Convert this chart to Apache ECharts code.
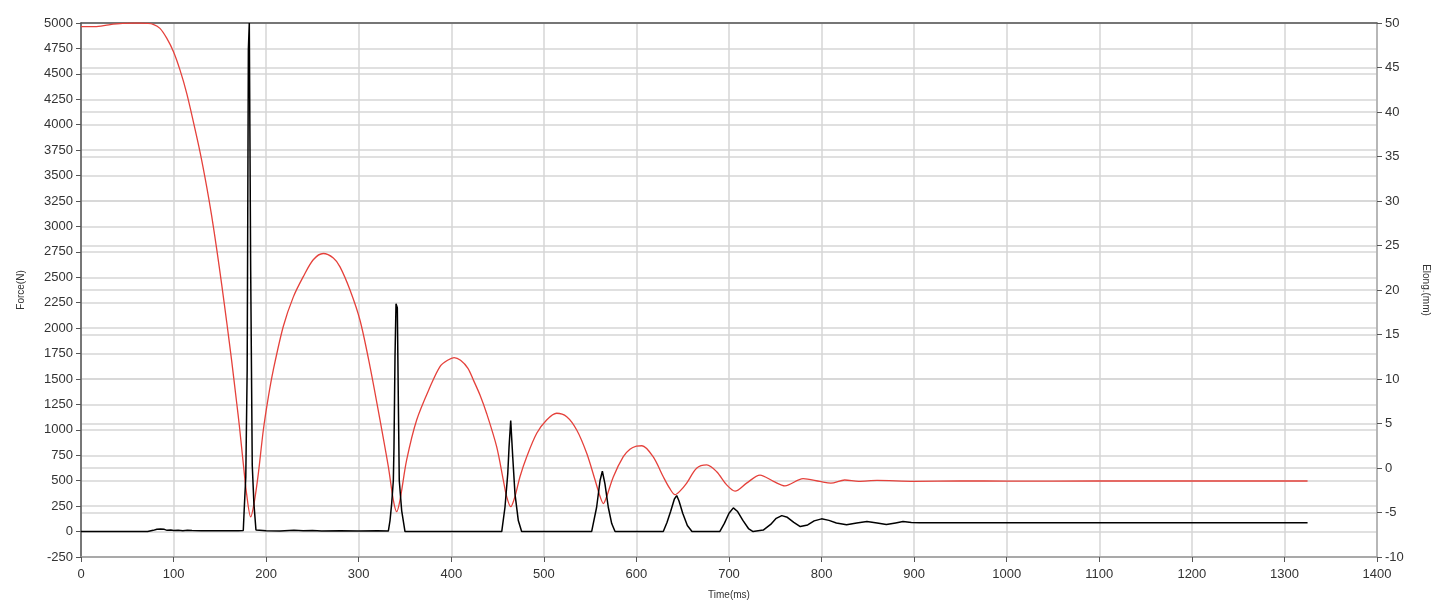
<!DOCTYPE html>
<html>
<head>
<meta charset="utf-8">
<script src="https://cdn.jsdelivr.net/npm/echarts@6/dist/echarts.min.js"></script>
<style>
html,body{margin:0;padding:0;background:#fff;}
#chart{width:1445px;height:608px;}
</style>
</head>
<body>
<div id="chart"></div>
<script>
// Force (N) – black, left axis
var forceTime = [0,72,74,78,82,84,86,88,90,93,97,100,105,110,115,120,130,150,170,175.3,176.5,178,179.5,180.8,181.8,183.3,185,186.8,189,190,200,215,230,240,250,260,280,300,320,332,333.8,335.6,337.4,338.1,339.2,340.3,341.7,342.8,343.8,346.4,350,454.5,458,461,462.4,464.2,466.4,468.8,472.4,476,551.6,557,560.7,563.2,566,569.6,573.3,576.9,629,633,637,641,643.5,646,650,655,660,690,695,700,704.7,709,715,721,726,737,745,751,757,763,770,777,785,792,800,808,816,827,838,849,860,870,880,888,897,906,920,1325];
var forceVals = [0,0,15,12,22,15,25,18,22,12,15,10,12,8,12,10,8,8,8,10,256,534,1584,4740,5000,2568,650,275,15,5,8,5,12,8,10,5,8,5,8,5,108,275,502,830,1715,2240,2200,1289,502,207,0,0,239,568,830,1092,731,371,108,0,0,239,502,593,469,239,79,0,0,90,200,320,354,300,180,60,0,0,80,180,233,200,110,30,0,15,70,130,157,140,90,49,65,105,125,110,85,66,85,98,85,69,85,98,90,87,87,87];

// Elongation (mm) – red, right axis
var elongTime = [0,15,30,45,60,72,78,85.3,92.6,99.8,107,114.2,121.4,128.6,135.8,141.2,146.6,152,157.4,162.8,168.2,171,175.4,179,183.3,186.9,191.6,197,202.4,207.7,218.5,229.3,240.1,250.9,261.7,272.6,279.8,290.6,301.4,312.2,323,332,337.4,341,344.6,351.8,362.6,377,387.8,396,403,410,418,423.8,431,438.3,449,456.2,459.8,464.2,468.8,474.2,481.5,492.3,503,513.8,524.7,535.5,546.3,555.3,560.7,564.3,567.9,575,585.8,593,600,606,618,629,636,641.7,647,654.3,665,676,686.7,697.5,706.5,719,733.5,748,760.5,780,798,810,825,840,860,900,950,1000,1100,1200,1325];
var elongVals = [49.6,49.6,49.8,49.95,50,49.95,49.85,49.4,48.3,46.8,44.7,42.1,38.9,35.5,31.6,28.3,24.6,20.6,16.4,12.0,7.3,4.8,0.4,-3.0,-5.5,-4.0,-0.6,4.3,8.0,11.0,15.9,19.2,21.5,23.4,24.1,23.6,22.6,20.0,16.6,11.4,5.4,0.15,-3.6,-4.9,-3.6,0.9,5.4,9.1,11.4,12.1,12.4,12.1,11.2,9.9,8.2,6.1,2.4,-1.35,-3.2,-4.35,-3.2,-0.98,1.27,3.9,5.4,6.15,5.76,4.27,1.65,-1.35,-3.2,-4.0,-3.2,-1.0,1.27,2.1,2.45,2.5,1.27,-0.98,-2.3,-3.0,-2.6,-1.7,-0.03,0.34,-0.42,-1.9,-2.6,-1.7,-0.8,-1.5,-2.0,-1.2,-1.5,-1.7,-1.35,-1.5,-1.4,-1.5,-1.45,-1.47,-1.46,-1.46,-1.46];

var forceData = forceTime.map(function(t,i){return [t, forceVals[i]];});
var elongData = elongTime.map(function(t,i){return [t, elongVals[i]];});

var gridColor = '#d6d6d6';
var FONT = 'Liberation Sans, Arial, sans-serif';
function plain(v){ return String(v); }

var chart = echarts.init(document.getElementById('chart'), null, {renderer:'canvas'});
chart.setOption({
  animation:false,
  backgroundColor:'#fff',
  grid:{left:81, right:68, top:23, bottom:51, containLabel:false},
  xAxis:[{
    type:'value', min:0, max:1400, interval:100, position:'bottom',
    name:'Time(ms)', nameLocation:'middle', nameGap:33,
    nameTextStyle:{color:'#333', fontSize:10, fontFamily:FONT},
    axisLine:{show:true, onZero:false, lineStyle:{color:'#999', width:1.5}},
    axisTick:{show:true, length:5, lineStyle:{color:'#555'}},
    axisLabel:{margin:11, color:'#333', fontSize:13, fontFamily:FONT, formatter:plain},
    splitLine:{show:true, lineStyle:{color:gridColor, width:1.5}}
  },{
    type:'value', min:0, max:1400, interval:100, position:'top',
    axisLine:{show:true, onZero:false, lineStyle:{color:'#555', width:1.5}},
    axisTick:{show:false}, axisLabel:{show:false}, splitLine:{show:false}
  }],
  yAxis:[{
    type:'value', min:-250, max:5000, interval:250, position:'left',
    name:'Force(N)', nameLocation:'middle', nameGap:55,
    nameTextStyle:{color:'#333', fontSize:10, fontFamily:FONT},
    axisLine:{show:true, onZero:false, lineStyle:{color:'#555', width:1.5}},
    axisTick:{show:true, length:5, lineStyle:{color:'#555'}},
    axisLabel:{margin:8, color:'#333', fontSize:13, fontFamily:FONT, formatter:plain},
    splitLine:{show:true, lineStyle:{color:gridColor, width:1.5}}
  },{
    type:'value', min:-10, max:50, interval:5, position:'right',
    name:'Elong.(mm)', nameLocation:'middle', nameGap:44, nameRotate:-90,
    nameTextStyle:{color:'#333', fontSize:10, fontFamily:FONT},
    axisLine:{show:true, onZero:false, lineStyle:{color:'#aaa', width:1.5}},
    axisTick:{show:true, length:5, lineStyle:{color:'#555'}},
    axisLabel:{margin:8, color:'#333', fontSize:13, fontFamily:FONT, formatter:plain},
    splitLine:{show:true, lineStyle:{color:gridColor, width:1.5}}
  }],
  series:[{
    name:'Elong', type:'line', xAxisIndex:0, yAxisIndex:1, data:elongData,
    showSymbol:false, symbol:'none', smooth:0.3,
    lineStyle:{color:'#e5413b', width:1.3}, z:2
  },{
    name:'Force', type:'line', xAxisIndex:0, yAxisIndex:0, data:forceData,
    showSymbol:false, symbol:'none', smooth:false,
    lineStyle:{color:'#000', width:1.5}, z:3
  }]
});
</script>
</body>
</html>
